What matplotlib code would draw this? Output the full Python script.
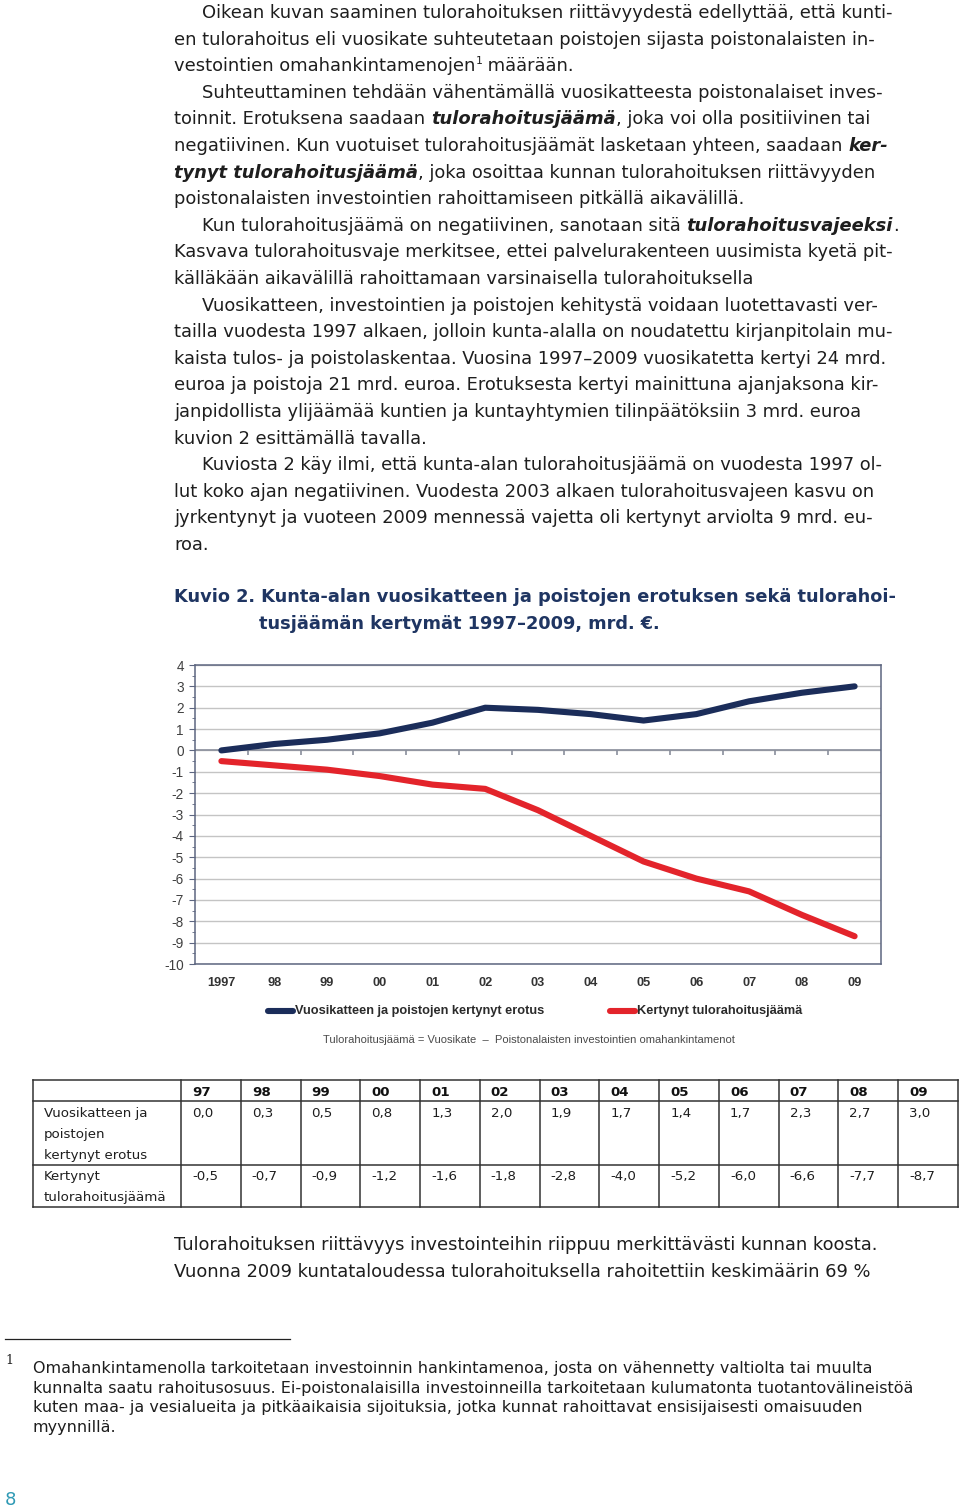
import matplotlib
matplotlib.use("Agg")
import matplotlib.pyplot as plt
from matplotlib import font_manager
from matplotlib.lines import Line2D
from matplotlib.ticker import MultipleLocator
import numpy as np

plt.rcParams["axes.unicode_minus"] = False

# --- data -------------------------------------------------------------
years = ["1997", "98", "99", "00", "01", "02", "03", "04", "05", "06", "07", "08", "09"]
table_years = ["97", "98", "99", "00", "01", "02", "03", "04", "05", "06", "07", "08", "09"]
erotus = [0.0, 0.3, 0.5, 0.8, 1.3, 2.0, 1.9, 1.7, 1.4, 1.7, 2.3, 2.7, 3.0]
jaama = [-0.5, -0.7, -0.9, -1.2, -1.6, -1.8, -2.8, -4.0, -5.2, -6.0, -6.6, -7.7, -8.7]
series_labels = ["Vuosikatteen ja poistojen kertynyt erotus", "Kertynyt tulorahoitusjäämä"]
row_labels = [["Vuosikatteen ja", "poistojen", "kertynyt erotus"],
              ["Kertynyt", "tulorahoitusjäämä"]]
formula = "Tulorahoitusjäämä = Vuosikate  \u2013  Poistonalaisten investointien omahankintamenot"
title_lines = ["Kuvio 2. Kunta-alan vuosikatteen ja poistojen erotuksen sekä tulorahoi-",
               "tusjäämän kertymät 1997\u20132009, mrd. \u20ac."]

# body text: (indented, [(text, style)])
body = [
    (1, [("Oikean kuvan saaminen tulorahoituksen riittävyydestä edellyttää, että kunti-", "n")]),
    (0, [("en tulorahoitus eli vuosikate suhteutetaan poistojen sijasta poistonalaisten in-", "n")]),
    (0, [("vestointien omahankintamenojen", "n"), ("1", "sup"), (" määrään.", "n")]),
    (1, [("Suhteuttaminen tehdään vähentämällä vuosikatteesta poistonalaiset inves-", "n")]),
    (0, [("toinnit. Erotuksena saadaan ", "n"), ("tulorahoitusjäämä", "bi"),
         (", joka voi olla positiivinen tai", "n")]),
    (0, [("negatiivinen. Kun vuotuiset tulorahoitusjäämät lasketaan yhteen, saadaan ", "n"),
         ("ker-", "bi")]),
    (0, [("tynyt tulorahoitusjäämä", "bi"),
         (", joka osoittaa kunnan tulorahoituksen riittävyyden", "n")]),
    (0, [("poistonalaisten investointien rahoittamiseen pitkällä aikavälillä.", "n")]),
    (1, [("Kun tulorahoitusjäämä on negatiivinen, sanotaan sitä ", "n"),
         ("tulorahoitusvajeeksi", "bi"), (".", "n")]),
    (0, [("Kasvava tulorahoitusvaje merkitsee, ettei palvelurakenteen uusimista kyetä pit-", "n")]),
    (0, [("källäkään aikavälillä rahoittamaan varsinaisella tulorahoituksella", "n")]),
    (1, [("Vuosikatteen, investointien ja poistojen kehitystä voidaan luotettavasti ver-", "n")]),
    (0, [("tailla vuodesta 1997 alkaen, jolloin kunta-alalla on noudatettu kirjanpitolain mu-", "n")]),
    (0, [("kaista tulos- ja poistolaskentaa. Vuosina 1997\u20132009 vuosikatetta kertyi 24 mrd.", "n")]),
    (0, [("euroa ja poistoja 21 mrd. euroa. Erotuksesta kertyi mainittuna ajanjaksona kir-", "n")]),
    (0, [("janpidollista ylijäämää kuntien ja kuntayhtymien tilinpäätöksiin 3 mrd. euroa", "n")]),
    (0, [("kuvion 2 esittämällä tavalla.", "n")]),
    (1, [("Kuviosta 2 käy ilmi, että kunta-alan tulorahoitusjäämä on vuodesta 1997 ol-", "n")]),
    (0, [("lut koko ajan negatiivinen. Vuodesta 2003 alkaen tulorahoitusvajeen kasvu on", "n")]),
    (0, [("jyrkentynyt ja vuoteen 2009 mennessä vajetta oli kertynyt arviolta 9 mrd. eu-", "n")]),
    (0, [("roa.", "n")]),
]
after_table = ["Tulorahoituksen riittävyys investointeihin riippuu merkittävästi kunnan koosta.",
               "Vuonna 2009 kuntataloudessa tulorahoituksella rahoitettiin keskimäärin 69 %"]
footnote = ["Omahankintamenolla tarkoitetaan investoinnin hankintamenoa, josta on vähennetty valtiolta tai muulta",
            "kunnalta saatu rahoitusosuus. Ei-poistonalaisilla investoinneilla tarkoitetaan kulumatonta tuotantovälineistöä",
            "kuten maa- ja vesialueita ja pitkäaikaisia sijoituksia, jotka kunnat rahoittavat ensisijaisesti omaisuuden",
            "myynnillä."]

# --- page setup -------------------------------------------------------
W, H = 960, 1507
fig = plt.figure(figsize=(W / 100, H / 100), dpi=100)
renderer = fig.canvas.get_renderer()


def fx(x):
    return x / W


def fy(y):
    return 1 - y / H


def text_width(s, **kw):
    t = fig.text(0, 0, "|" + s + "|", **kw)
    w = t.get_window_extent(renderer).width
    t.remove()
    t = fig.text(0, 0, "||", **kw)
    w -= t.get_window_extent(renderer).width
    t.remove()
    return w


BODY = "DejaVu Sans"
BS = 12.9
TXT = "#1e1e1e"
NAVY = "#1f3562"
BLUE = "#1b2d5a"
RED = "#e3242b"


def draw_runs(x, y, runs, size=BS):
    for s, style in runs:
        kw = dict(fontsize=size, family=BODY, color=TXT)
        yy = y
        if style == "bi":
            kw.update(weight="bold", style="italic")
        elif style == "sup":
            kw["fontsize"] = size * 0.6
            yy = y - 7
        fig.text(fx(x), fy(yy), s, ha="left", va="baseline", **kw)
        x += text_width(s, **kw)


for i, (ind, runs) in enumerate(body):
    draw_runs(202 if ind else 174, 18 + 26.6 * i, runs)

fig.text(fx(174), fy(602), title_lines[0], fontsize=12.8, family=BODY,
         weight="bold", color=NAVY, va="baseline")
fig.text(fx(259), fy(629), title_lines[1], fontsize=12.8, family=BODY,
         weight="bold", color=NAVY, va="baseline")

# --- chart ------------------------------------------------------------
names = {f.name for f in font_manager.fontManager.ttflist}
NARROW = "Liberation Sans Narrow" if "Liberation Sans Narrow" in names else "Liberation Sans"
narrow_ok = NARROW == "Liberation Sans Narrow"
leg_size = 12.3 if narrow_ok else 9.2

ax = fig.add_axes([fx(195), fy(964), (881 - 195) / W, (964 - 665) / H])
x = np.arange(len(years))
ax.set_xlim(-0.5, len(years) - 0.5)
ax.set_ylim(-10, 4)
ax.set_yticks(range(-10, 5))
ax.yaxis.set_minor_locator(MultipleLocator(0.5))
ax.grid(axis="y", color="#c4c4c4", lw=1)
ax.set_axisbelow(True)
spine_c = "#5d6680"
for sp in ax.spines.values():
    sp.set_color(spine_c)
    sp.set_linewidth(1.1)
ax.axhline(0, color="#8a8f9c", lw=1.2, zorder=1)
ax.vlines(x[:-1] + 0.5, -0.2, 0, color="#8a8f9c", lw=1.2, zorder=1)

l1, = ax.plot(x, erotus, color=BLUE, lw=4.4, solid_capstyle="round", zorder=3)
l2, = ax.plot(x, jaama, color=RED, lw=4.4, solid_capstyle="round", zorder=3)

ax.set_xticks(x)
ax.set_xticklabels(years, fontsize=9.2, family="Liberation Sans", weight="bold", color="#333333")
ax.tick_params(axis="x", length=0, pad=9)
ax.tick_params(axis="y", which="major", length=4, color=spine_c, labelsize=9.8,
               labelcolor="#404040", pad=4)
ax.tick_params(axis="y", which="minor", length=2.5, color=spine_c)
for lab in ax.get_yticklabels():
    lab.set_family("Liberation Sans")

# legend drawn at page level
for (x0, x1, tx), line, lab in zip([(268, 293, 295), (610, 635, 637)], [l1, l2], series_labels):
    fig.add_artist(Line2D([fx(x0), fx(x1)], [fy(1011), fy(1011)], color=line.get_color(),
                          lw=4.4, solid_capstyle="round"))
    fig.text(fx(tx), fy(1011), lab, family=NARROW, weight="bold", fontsize=leg_size,
             color="#2a2a2a", va="center", ha="left")

fig.text(fx(529), fy(1040), formula, family=NARROW, fontsize=9.0 if narrow_ok else 8.0,
         color="#4a4a4a", ha="center", va="center")

# --- table ------------------------------------------------------------
row_y = [1080, 1101, 1165, 1207]
col_x = [33, 181] + [181 + (958 - 181) / 13 * k for k in range(1, 14)]
tc = "#333333"
for yy in row_y:
    fig.add_artist(Line2D([fx(33), fx(958)], [fy(yy), fy(yy)], color=tc, lw=1.1))
for xx in col_x:
    fig.add_artist(Line2D([fx(xx), fx(xx)], [fy(1080), fy(1207)], color=tc, lw=1.1))

TS = 9.6
for k, lab in enumerate(table_years):
    fig.text(fx(col_x[k + 1] + 11), fy(1096), lab, fontsize=TS, family=BODY,
             weight="bold", color="#111111", va="baseline")
for r, (vals, labs) in enumerate(zip([erotus, jaama], row_labels)):
    base = [1117, 1180][r]
    for j, t in enumerate(labs):
        fig.text(fx(44), fy(base + 21 * j), t, fontsize=TS, family=BODY, color=TXT, va="baseline")
    for k, v in enumerate(vals):
        fig.text(fx(col_x[k + 1] + 11), fy(base), f"{v:.1f}".replace(".", ","),
                 fontsize=TS, family=BODY, color=TXT, va="baseline")

for i, line in enumerate(after_table):
    fig.text(fx(174), fy(1250 + 26.6 * i), line, fontsize=BS, family=BODY, color=TXT, va="baseline")

# --- footnote & page number ------------------------------------------
fig.add_artist(Line2D([fx(5), fx(290)], [fy(1339), fy(1339)], color="#222222", lw=0.9))
fig.text(fx(5), fy(1364), "1", fontsize=9, family="DejaVu Serif", color=TXT, va="baseline")
for i, line in enumerate(footnote):
    fig.text(fx(33), fy(1373 + 19.7 * i), line, fontsize=11.5, family=BODY, color=TXT, va="baseline")
fig.text(fx(5), fy(1505), "8", fontsize=13, family=BODY, color="#2f9ab5", va="baseline")

fig.savefig("out.png", dpi=100)
